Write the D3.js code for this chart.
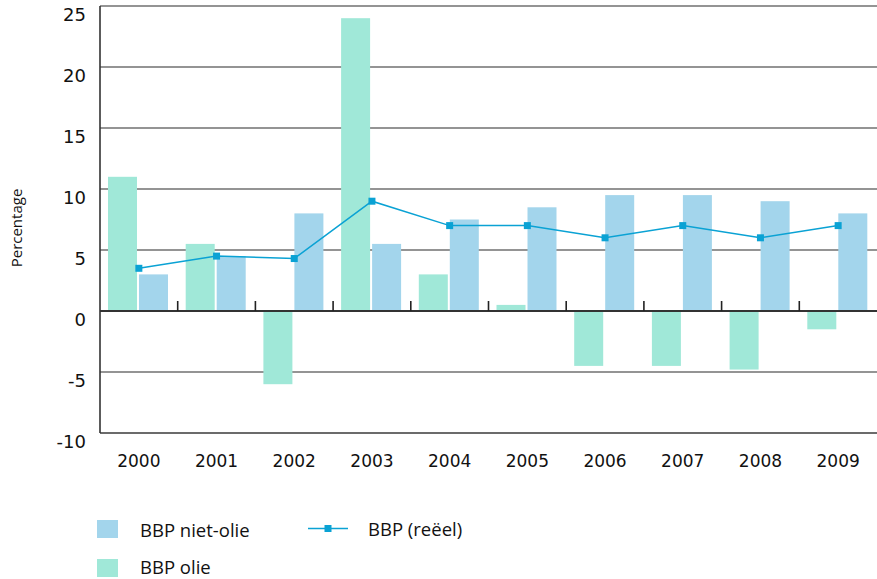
<!DOCTYPE html>
<html><head><meta charset="utf-8">
<script src="https://cdn.jsdelivr.net/npm/d3@7"></script>
<style>body{margin:0;background:#fff}svg{display:block}</style>
</head><body>
<svg id="c" width="877" height="579"></svg>
<script>
const years = ["2000","2001","2002","2003","2004","2005","2006","2007","2008","2009"];
const bbpOlie = [11.0, 5.5, -6.0, 24.0, 3.0, 0.5, -4.5, -4.5, -4.8, -1.5];
const bbpNietOlie = [3.0, 4.5, 8.0, 5.5, 7.5, 8.5, 9.5, 9.5, 9.0, 8.0];
const bbpReeel = [3.5, 4.5, 4.3, 9.0, 7.0, 7.0, 6.0, 7.0, 6.0, 7.0];
const yTicks = [-10, -5, 0, 5, 10, 15, 20, 25];
const seriesNames = ["BBP niet-olie", "BBP olie", "BBP (reëel)"];

const cOlie = "#a0e8d8", cNiet = "#a3d5ec", cLine = "#0aa2d4";
const svg = d3.select("#c");
const L = 100, R = 877;
const x = d3.scaleBand().domain(years).range([L, R]).padding(0);
const xs = d3.scaleBand().domain(["olie","niet"]).range([8, 68]).paddingInner(2/31);
const y = d3.scaleLinear().domain([-10, 25]).range([433, 6]);
const numFont = "DejaVu Sans, sans-serif";
const txtFont = "'Open Sans', sans-serif";

// gridlines
svg.append("g").selectAll("line").data(yTicks.filter(d => d !== 0)).join("line")
  .attr("x1", L).attr("x2", R)
  .attr("y1", d => y(d)).attr("y2", d => y(d))
  .attr("stroke", d => d === -10 ? "#3a3a3a" : "#707070").attr("stroke-width", 1.6);

// y tick labels
svg.append("g").selectAll("text").data(yTicks).join("text")
  .attr("x", 86).attr("y", d => y(d) + 14.5)
  .attr("text-anchor", "end").attr("font-family", numFont).attr("font-size", 18)
  .attr("fill", "#111").text(d => d);

// bars
const g = svg.append("g");
g.selectAll("rect.o").data(years).join("rect").attr("class","o")
  .attr("x", (d) => x(d) + xs("olie")).attr("width", xs.bandwidth())
  .attr("y", (d,i) => y(Math.max(0, bbpOlie[i])))
  .attr("height", (d,i) => Math.abs(y(bbpOlie[i]) - y(0)))
  .attr("fill", cOlie);
g.selectAll("rect.n").data(years).join("rect").attr("class","n")
  .attr("x", (d) => x(d) + xs("niet")).attr("width", xs.bandwidth())
  .attr("y", (d,i) => y(Math.max(0, bbpNietOlie[i])))
  .attr("height", (d,i) => Math.abs(y(bbpNietOlie[i]) - y(0)))
  .attr("fill", cNiet);

// zero axis line and ticks
svg.append("line").attr("x1", L).attr("x2", R).attr("y1", y(0)).attr("y2", y(0))
  .attr("stroke", "#333").attr("stroke-width", 1.8);
svg.append("g").selectAll("line").data(years.slice(1)).join("line")
  .attr("x1", d => x(d)).attr("x2", d => x(d))
  .attr("y1", y(0) - 10).attr("y2", y(0))
  .attr("stroke", "#222").attr("stroke-width", 1.6);

// left axis
svg.append("line").attr("x1", L).attr("x2", L).attr("y1", y(25)).attr("y2", y(-10))
  .attr("stroke", "#333").attr("stroke-width", 1.6);

// line series
const cx = d => x(d) + x.bandwidth() / 2;
svg.append("path").datum(years)
  .attr("d", d3.line().x(d => cx(d)).y((d,i) => y(bbpReeel[i])))
  .attr("fill", "none").attr("stroke", cLine).attr("stroke-width", 1.5);
svg.append("g").selectAll("rect").data(years).join("rect")
  .attr("x", d => cx(d) - 3.5).attr("y", (d,i) => y(bbpReeel[i]) - 3.5)
  .attr("width", 7).attr("height", 7).attr("fill", cLine);

// x labels
svg.append("g").selectAll("text").data(years).join("text")
  .attr("x", d => cx(d)).attr("y", 467)
  .attr("text-anchor", "middle").attr("font-family", numFont).attr("font-size", 17)
  .attr("fill", "#111").text(d => d);

// y title
svg.append("text").attr("transform", "translate(22,228) rotate(-90)")
  .attr("text-anchor", "middle").attr("font-family", txtFont).attr("font-size", 15)
  .attr("fill", "#111").text("Percentage");

// legend
const lg = svg.append("g").attr("font-family", txtFont).attr("font-size", 18.5).attr("fill", "#111");
lg.append("rect").attr("x", 97).attr("y", 520).attr("width", 21).attr("height", 18).attr("fill", cNiet);
lg.append("text").attr("x", 140).attr("y", 537).text(seriesNames[0]);
lg.append("rect").attr("x", 97).attr("y", 559).attr("width", 21).attr("height", 18).attr("fill", cOlie);
lg.append("text").attr("x", 140).attr("y", 574).text(seriesNames[1]);
lg.append("line").attr("x1", 308).attr("x2", 348).attr("y1", 528.5).attr("y2", 528.5)
  .attr("stroke", cLine).attr("stroke-width", 1.5);
lg.append("rect").attr("x", 324.5).attr("y", 525).attr("width", 7).attr("height", 7).attr("fill", cLine);
lg.append("text").attr("x", 368).attr("y", 536).text(seriesNames[2]);
</script>
</body></html>
